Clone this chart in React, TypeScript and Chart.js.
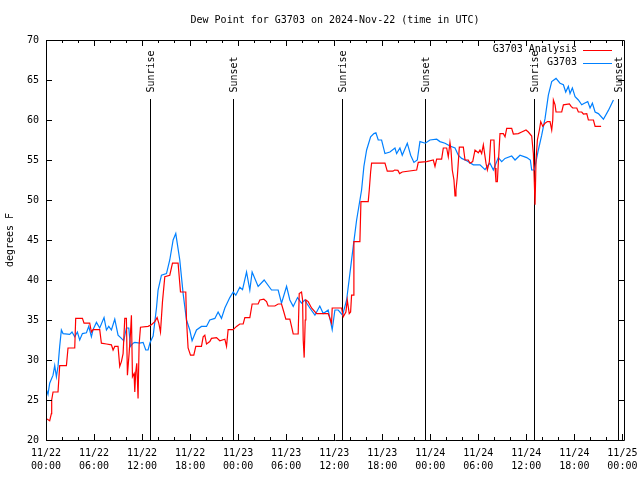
import React, { useEffect, useRef } from 'react';
import { Chart, registerables } from 'chart.js';

Chart.register(...registerables);

const FONT_FAMILY = '"DejaVu Sans Mono", "Liberation Mono", monospace';
const TITLE = 'Dew Point for G3703 on 2024-Nov-22 (time in UTC)';
const Y_LABEL = 'degrees F';
const SERIES_NAMES = ['G3703 Analysis', 'G3703'];
const SERIES_COLORS = ['#ff0000', '#0080ff'];

// hours since 11/22 00:00 UTC
const xTickHours = [0, 2, 4, 6, 8, 10, 12, 14, 16, 18, 20, 22, 24, 26, 28, 30, 32, 34, 36, 38, 40, 42, 44, 46, 48, 50, 52, 54, 56, 58, 60, 62, 64, 66, 68, 70, 72];
const xTickDates = ['11/22', '11/22', '11/22', '11/22', '11/23', '11/23', '11/23', '11/23', '11/24', '11/24', '11/24', '11/24', '11/25'];
const xTickTimes = ['00:00', '06:00', '12:00', '18:00', '00:00', '06:00', '12:00', '18:00', '00:00', '06:00', '12:00', '18:00', '00:00'];

const sunEventHours = [13.0, 23.38, 37.0, 47.38, 61.0, 71.42];
const sunEventLabels = ['Sunrise', 'Sunset', 'Sunrise', 'Sunset', 'Sunrise', 'Sunset'];

const analysisHours = [
  0.0, 0.46, 0.67, 0.71, 0.88, 1.5, 1.71, 2.55, 2.75, 3.59, 3.71, 4.55, 4.75, 5.46, 5.67, 5.88, 6.71, 6.92, 7.55, 8.17,
  8.38, 8.59, 9.0, 9.21, 9.42, 9.63, 9.84, 10.04, 10.17, 10.38, 10.55, 10.67, 10.8, 11.0, 11.09, 11.21, 11.34, 11.5, 11.63, 11.8,
  12.75, 13.17, 13.59, 13.88, 14.09, 14.3, 14.55, 14.84, 15.46, 15.8, 16.5, 16.8, 17.46, 17.55, 17.75, 18.05, 18.46, 18.71, 19.42, 19.63,
  19.84, 20.05, 20.46, 20.67, 21.3, 21.71, 22.34, 22.55, 22.75, 23.38, 23.8, 24.21, 24.63, 24.84, 25.46, 25.75, 26.5, 26.71, 27.21, 27.55,
  27.75, 28.59, 29.0, 29.42, 29.71, 29.96, 30.46, 30.67, 30.88, 31.5, 31.63, 31.92, 32.05, 32.13, 32.25, 32.38, 32.46, 32.75, 33.17, 33.8,
  35.25, 35.46, 35.67, 35.75, 36.92, 37.13, 37.46, 37.63, 37.88, 38.05, 38.17, 38.38, 38.46, 39.21, 39.34, 40.25, 40.38, 40.55, 40.67, 42.34,
  42.63, 43.34, 43.55, 43.96, 44.17, 44.5, 46.3, 46.5, 47.55, 48.38, 48.59, 48.8, 49.42, 49.63, 50.05, 50.25, 50.46, 50.59, 50.75, 50.96,
  51.09, 51.21, 51.38, 51.63, 52.13, 52.34, 52.75, 52.96, 53.3, 53.59, 54.0, 54.21, 54.42, 54.63, 54.96, 55.13, 55.38, 55.55, 55.96, 56.09,
  56.21, 56.38, 56.5, 56.71, 57.13, 57.34, 57.55, 58.17, 58.38, 59.0, 59.42, 59.96, 60.25, 60.67, 60.88, 61.09, 61.21, 61.38, 61.63, 61.8,
  62.05, 62.34, 62.63, 62.96, 63.17, 63.3, 63.38, 63.59, 63.71, 64.42, 64.63, 65.38, 65.59, 65.8, 66.3, 66.5, 66.92, 67.13, 67.55, 67.75,
  68.38, 68.59, 69.34,
];
const analysisValues = [
  22.7, 22.4, 23.3, 25.0, 26.0, 26.0, 29.3, 29.3, 31.5, 31.5, 35.2, 35.2, 34.6, 34.6, 33.5, 33.8, 33.8, 32.1, 32.0, 31.9,
  31.25, 31.7, 31.7, 29.2, 29.8, 30.8, 35.2, 35.2, 28.1, 30.8, 33.3, 35.6, 27.9, 28.3, 26.0, 28.5, 29.6, 25.2, 31.9, 34.1,
  34.2, 34.4, 34.8, 35.3, 34.6, 33.5, 37.3, 40.4, 40.6, 42.1, 42.1, 38.5, 38.5, 35.0, 31.5, 30.6, 30.6, 31.7, 31.7, 32.9,
  33.1, 32.0, 32.3, 32.7, 32.8, 32.4, 32.6, 31.7, 33.8, 33.8, 34.2, 34.5, 34.5, 35.3, 35.3, 37.0, 37.0, 37.5, 37.6, 37.3,
  36.75, 36.75, 37.0, 37.0, 36.0, 35.1, 35.1, 34.2, 33.25, 33.25, 38.3, 38.5, 37.5, 32.5, 30.3, 35.0, 37.5, 37.3, 36.5, 35.8,
  35.8, 35.2, 34.6, 36.5, 36.5, 35.4, 36.0, 37.5, 35.8, 36.0, 38.1, 38.1, 44.8, 44.8, 49.8, 49.8, 51.25, 53.5, 54.6, 54.6,
  53.6, 53.6, 53.75, 53.7, 53.3, 53.5, 53.75, 54.7, 54.8, 55.0, 54.2, 55.1, 55.1, 56.5, 56.5, 55.4, 57.2, 56.25, 53.75, 52.5,
  50.5, 51.25, 52.9, 56.6, 56.6, 55.0, 55.0, 54.6, 54.8, 56.25, 55.9, 56.25, 55.8, 56.9, 54.6, 53.75, 54.8, 57.5, 57.5, 54.0,
  52.3, 52.3, 54.6, 58.3, 58.3, 57.9, 58.96, 58.96, 58.25, 58.3, 58.5, 58.75, 58.5, 58.0, 55.8, 49.4, 55.0, 57.5, 58.75, 59.8,
  59.2, 59.6, 59.8, 59.8, 58.75, 60.0, 62.5, 61.9, 61.0, 61.0, 61.9, 62.0, 61.7, 61.5, 61.5, 61.0, 61.0, 60.75, 60.8, 60.0,
  60.0, 59.2, 59.2,
];

const obsHours = [
  0.05, 0.25, 0.46, 0.88, 1.09, 1.3, 1.5, 1.71, 1.92, 2.13, 2.96, 3.25, 3.59, 3.92, 4.21, 4.55, 5.05, 5.34, 5.67, 5.88,
  6.3, 6.71, 7.25, 7.55, 7.84, 8.17, 8.59, 9.0, 9.42, 9.71, 10.04, 10.34, 10.55, 10.88, 11.09, 11.71, 12.13, 12.46, 12.75, 13.0,
  13.38, 13.8, 14.0, 14.42, 15.05, 15.46, 15.88, 16.21, 16.71, 17.13, 17.55, 17.96, 18.25, 18.8, 19.42, 20.05, 20.46, 21.09, 21.5, 21.92,
  22.34, 22.96, 23.38, 23.71, 24.21, 24.55, 25.05, 25.46, 25.75, 26.5, 27.25, 28.17, 29.0, 29.42, 30.05, 30.46, 30.88, 31.42, 31.92, 32.34,
  32.63, 32.96, 33.59, 34.2, 34.63, 35.25, 35.75, 36.09, 36.5, 37.05, 37.55, 37.96, 38.38, 38.8, 39.42, 39.71, 40.05, 40.55, 40.96, 41.21,
  41.5, 41.92, 42.34, 42.96, 43.59, 43.8, 44.21, 44.5, 45.13, 45.55, 45.96, 46.38, 46.71, 47.38, 47.96, 48.8, 49.21, 49.84, 50.46, 51.09,
  51.5, 51.92, 52.55, 53.38, 54.21, 54.84, 55.25, 55.46, 55.88, 56.5, 56.92, 57.34, 58.17, 58.59, 59.21, 60.05, 60.5, 60.67, 61.0, 61.21,
  61.5, 61.92, 62.34, 62.75, 63.17, 63.71, 64.21, 64.63, 64.92, 65.25, 65.46, 65.75, 66.09, 66.5, 66.92, 67.25, 67.67, 67.96, 68.25, 68.59,
  69.0, 69.63, 70.25, 70.88,
];
const obsValues = [
  26.3, 25.7, 27.1, 28.1, 29.3, 27.9, 29.2, 31.7, 33.75, 33.3, 33.2, 33.5, 32.9, 33.5, 32.5, 33.3, 33.4, 34.2, 32.9, 33.8,
  34.7, 34.0, 35.3, 33.75, 34.2, 33.75, 35.1, 33.1, 32.7, 32.4, 34.0, 34.0, 31.7, 32.1, 32.2, 32.1, 32.2, 31.25, 31.25, 32.2,
  33.0, 36.5, 38.75, 40.6, 40.8, 42.5, 45.0, 45.8, 42.5, 38.3, 35.0, 33.75, 32.4, 33.75, 34.2, 34.2, 35.0, 35.2, 36.0, 35.2,
  36.5, 37.8, 38.5, 38.1, 39.1, 38.8, 41.0, 38.75, 41.0, 39.2, 40.0, 38.75, 38.75, 37.1, 39.2, 37.5, 36.7, 37.8, 37.1, 37.5,
  37.0, 36.5, 35.6, 36.75, 35.8, 36.25, 33.8, 36.25, 36.25, 35.6, 37.5, 40.8, 44.2, 47.5, 51.25, 54.2, 56.25, 57.9, 58.3, 58.4,
  57.5, 57.5, 55.8, 56.0, 56.5, 55.8, 56.5, 55.6, 57.1, 55.6, 54.7, 55.0, 57.3, 57.1, 57.5, 57.6, 57.3, 57.1, 56.75, 56.5,
  55.6, 55.2, 54.9, 54.4, 54.4, 53.8, 54.4, 54.6, 53.75, 55.3, 54.8, 55.2, 55.5, 55.0, 55.6, 55.3, 55.0, 53.75, 53.75, 54.8,
  56.25, 58.1, 60.2, 63.1, 64.8, 65.2, 64.6, 64.4, 63.5, 64.2, 63.3, 64.0, 62.9, 62.5, 61.9, 62.1, 62.3, 61.5, 62.1, 61.0,
  60.8, 60.1, 61.2, 62.5,
];

const toPoints = (hs: number[], vs: number[]) => hs.map((h, i) => ({ x: h, y: vs[i] }));

const decorPlugin = {
  id: 'gnuDecor',
  beforeDatasetsDraw(chart: any) {
    const { ctx, chartArea: a, scales } = chart;
    const xs = scales.x;
    ctx.save();
    ctx.strokeStyle = '#000';
    ctx.fillStyle = '#000';
    ctx.lineWidth = 1;
    ctx.font = `10px ${FONT_FAMILY}`;
    sunEventHours.forEach((h, i) => {
      const px = Math.round(xs.getPixelForValue(h)) + 0.5;
      ctx.beginPath();
      ctx.moveTo(px, a.top + 59);
      ctx.lineTo(px, a.bottom);
      ctx.stroke();
      ctx.save();
      ctx.translate(px + 1, a.top + 52.5);
      ctx.rotate(-Math.PI / 2);
      ctx.textAlign = 'left';
      ctx.textBaseline = 'middle';
      ctx.fillText(sunEventLabels[i], 0, 0);
      ctx.restore();
    });
    ctx.restore();
  },
  afterDraw(chart: any) {
    const { ctx, chartArea: a, scales } = chart;
    const xs = scales.x;
    const ys = scales.y;
    ctx.save();
    ctx.strokeStyle = '#000';
    ctx.lineWidth = 1;
    ctx.beginPath();
    ctx.rect(a.left + 0.5, a.top + 0.5, a.right - a.left, a.bottom - a.top);
    ctx.stroke();
    ctx.beginPath();
    xs.ticks.forEach((t: any) => {
      const px = Math.round(xs.getPixelForValue(t.value)) + 0.5;
      const len = t.value % 6 === 0 ? 6 : 3;
      ctx.moveTo(px, a.bottom);
      ctx.lineTo(px, a.bottom - len);
      ctx.moveTo(px, a.top);
      ctx.lineTo(px, a.top + len);
    });
    ys.ticks.forEach((t: any) => {
      const py = Math.round(ys.getPixelForValue(t.value)) + 0.5;
      ctx.moveTo(a.left, py);
      ctx.lineTo(a.left + 6, py);
      ctx.moveTo(a.right, py);
      ctx.lineTo(a.right - 6, py);
    });
    ctx.stroke();

    // legend
    ctx.font = `10px ${FONT_FAMILY}`;
    ctx.textAlign = 'right';
    ctx.textBaseline = 'middle';
    chart.data.datasets.forEach((ds: any, i: number) => {
      const yy = a.top + 9.5 + i * 13;
      ctx.fillStyle = '#000';
      ctx.fillText(ds.label, a.right - 47, yy);
      ctx.strokeStyle = ds.borderColor;
      ctx.beginPath();
      ctx.moveTo(a.right - 41, Math.round(yy) + 0.5);
      ctx.lineTo(a.right - 12, Math.round(yy) + 0.5);
      ctx.stroke();
    });
    ctx.restore();
  },
};

export default function App() {
  const ref = useRef<HTMLCanvasElement>(null);
  useEffect(() => {
    const font = { family: FONT_FAMILY, size: 10, weight: 'normal' as const, lineHeight: 1.2 };
    const chart = new Chart(ref.current as HTMLCanvasElement, {
      type: 'line',
      data: {
        datasets: [
          {
            label: SERIES_NAMES[0],
            data: toPoints(analysisHours, analysisValues),
            borderColor: SERIES_COLORS[0],
            backgroundColor: SERIES_COLORS[0],
            borderWidth: 1.2,
            pointRadius: 0,
            tension: 0,
            fill: false,
          },
          {
            label: SERIES_NAMES[1],
            data: toPoints(obsHours, obsValues),
            borderColor: SERIES_COLORS[1],
            backgroundColor: SERIES_COLORS[1],
            borderWidth: 1.2,
            pointRadius: 0,
            tension: 0,
            fill: false,
          },
        ],
      },
      options: {
        responsive: false,
        animation: false,
        devicePixelRatio: 1,
        layout: { padding: { left: 0, right: 16, top: 0, bottom: 0 } },
        plugins: {
          legend: { display: false },
          tooltip: { enabled: false },
          title: {
            display: true,
            text: TITLE,
            color: '#000',
            font,
            padding: { top: 14, bottom: 14 },
            fullSize: false,
          },
        },
        scales: {
          x: {
            type: 'linear',
            min: 0,
            max: 72.2,
            grid: { display: false, drawTicks: false },
            border: { display: false },
            afterBuildTicks: (scale: any) => {
              scale.ticks = xTickHours.map((v) => ({ value: v }));
            },
            afterFit: (scale: any) => {
              scale.height = 40;
              scale.paddingLeft = 0;
              scale.paddingRight = 0;
            },
            ticks: {
              autoSkip: false,
              maxRotation: 0,
              minRotation: 0,
              color: '#000',
              padding: 7,
              font: { family: FONT_FAMILY, size: 10, lineHeight: 1.3 },
              callback: (value: any) => {
                const v = Number(value);
                const i = Math.round(v / 6);
                if (Math.abs(v - i * 6) < 1e-6 && i < xTickDates.length) return [xTickDates[i], xTickTimes[i]];
                return '';
              },
            },
          },
          y: {
            type: 'linear',
            min: 20,
            max: 70,
            grid: { display: false, drawTicks: false },
            border: { display: false },
            afterFit: (scale: any) => {
              scale.width = 46;
              scale.paddingTop = 0;
              scale.paddingBottom = 0;
            },
            title: {
              display: true,
              text: Y_LABEL,
              color: '#000',
              font,
              padding: { top: 4, bottom: 0 },
            },
            ticks: {
              stepSize: 5,
              color: '#000',
              padding: 7,
              font,
            },
          },
        },
      },
      plugins: [decorPlugin],
    });
    return () => chart.destroy();
  }, []);
  return (
    <div style={{ position: 'absolute', left: 0, top: 0, width: 640, height: 480, background: '#fff' }}>
      <canvas ref={ref} width={640} height={480} style={{ display: 'block', width: 640, height: 480 }} />
    </div>
  );
}
